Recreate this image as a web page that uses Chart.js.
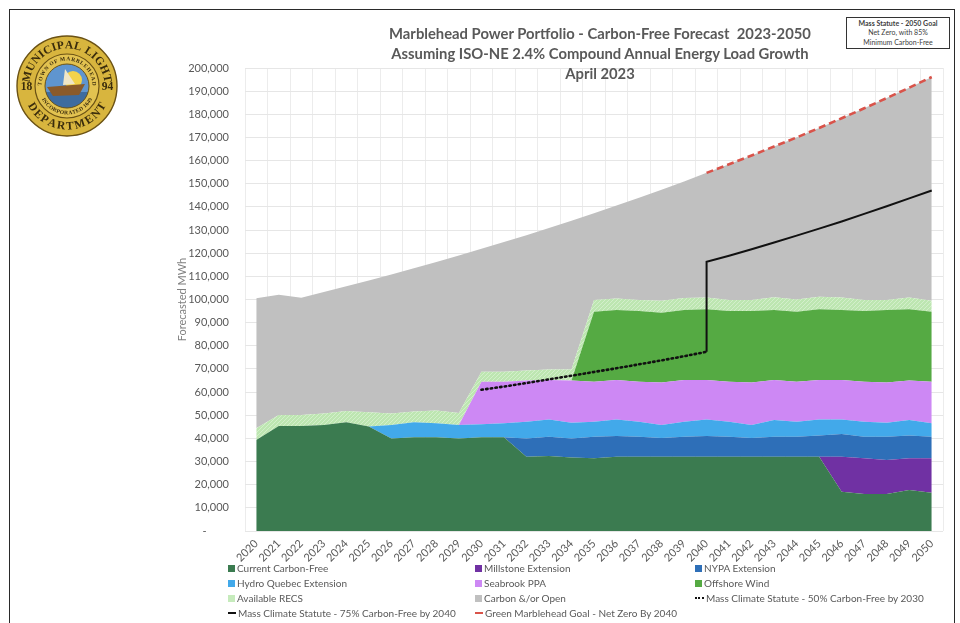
<!DOCTYPE html>
<html>
<head>
<meta charset="utf-8">
<script src="https://cdn.jsdelivr.net/npm/chart.js@4.4.1/dist/chart.umd.min.js"></script>
<style>
html,body{margin:0;padding:0;background:#fff;}
#wrap{position:relative;width:960px;height:623px;overflow:hidden;font-family:Lato,"Open Sans",sans-serif;color:#595959;}
#c{position:absolute;left:0;top:0;}
#frame{position:absolute;left:9px;top:9px;width:946px;height:700px;border:1.5px solid #2a2a2a;box-sizing:border-box;pointer-events:none;}
#title{position:absolute;left:300px;top:23px;width:600px;text-align:center;font-weight:bold;font-size:14.8px;line-height:20px;color:#595959;}
#box{position:absolute;left:846px;top:17px;width:104px;height:32px;border:1px solid #333;box-sizing:border-box;text-align:center;font-size:7px;line-height:9.3px;padding-top:1px;color:#404040;background:#fff;}
#box b{font-weight:bold;}
#legend{position:absolute;left:0;top:0;width:960px;height:623px;pointer-events:none;}
.li{position:absolute;font-size:10px;line-height:12px;white-space:nowrap;color:#595959;}
.mk{display:inline-block;vertical-align:middle;margin-right:2px;position:relative;top:-1px;}
</style>
</head>
<body>
<div id="wrap">
  <canvas id="c" width="960" height="623"></canvas>
  <div id="title">Marblehead Power Portfolio - Carbon-Free Forecast&nbsp; 2023-2050<br>Assuming ISO-NE 2.4% Compound Annual Energy Load Growth<br>April 2023</div>
  <div id="box"><b>Mass Statute - 2050 Goal</b><br>Net Zero, with 85%<br>Minimum Carbon-Free</div>
  <div id="legend"></div>
  <div id="frame"></div>
</div>
<script>
// ---------- DATA ----------
const years = ['2020','2021','2022','2023','2024','2025','2026','2027','2028','2029','2030',
  '2031','2032','2033','2034','2035','2036','2037','2038','2039','2040',
  '2041','2042','2043','2044','2045','2046','2047','2048','2049','2050'];

const currentCarbonFree = [39300,45400,45400,45800,47000,45100,40000,40500,40500,40000,40500,
  40500,32100,32400,31800,31400,32100,32100,32100,32100,32100,
  32100,32100,32100,32100,32100,17000,16000,16000,17700,16500];
const millstoneExtension = [0,0,0,0,0,0,0,0,0,0,0,
  0,0,0,0,0,0,0,0,0,0,
  0,0,0,0,0,15100,15400,14700,13700,14900];
const nypaExtension = [0,0,0,0,0,0,0,0,0,0,0,
  0,7900,8300,8200,9300,8900,8600,8100,8600,8900,
  8600,8100,8600,8600,9100,9800,9300,10000,9800,9300];
const hydroQuebecExtension = [0,0,0,0,0,0,5800,6500,6000,5800,5600,
  6000,7200,7500,6800,6500,7200,6500,5600,6500,7200,
  6500,5600,7300,6500,7000,6300,6500,6100,6800,5800];
const seabrookPPA = [0,0,0,0,0,0,0,0,0,0,18400,
  18000,17800,17000,18200,17300,17000,17300,18300,18000,17000,
  17300,18300,17200,17300,17000,17000,17300,17300,17000,18000];
const offshoreWind = [0,0,0,0,0,0,0,0,0,0,0,
  0,0,0,0,30200,30300,30500,30200,30300,30600,
  30500,30900,30300,30200,30600,30300,30500,31400,30800,30200];
const availableRECS = [5100,4700,4700,5000,4800,6200,5000,4600,5500,5200,4300,
  4300,4300,4600,4800,5100,4900,4800,5200,5100,5100,
  4800,4800,5500,5300,5400,5400,4800,4300,5100,4800];
const carbonOrOpen = [56100,51900,50700,52400,53900,56900,60000,61900,64200,68000,53100,
  56000,58500,61100,64200,37500,40200,44200,47900,50400,53800,
  58600,62400,65100,70000,72900,77400,82800,87200,90600,96600];

const statute50Years = ['2030','2031','2032','2033','2034','2035','2036','2037','2038','2039','2040'];
const statute50Values = [61000,62400,63900,65500,67100,68700,70300,72000,73700,75500,77400];

const statute75Years = ['2040','2040','2041','2042','2043','2044','2045','2046','2047','2048','2049','2050'];
const statute75Values = [77400,116300,118900,121700,124600,127600,130600,133700,137000,140300,143700,147100];

const netZeroYears = ['2040','2041','2042','2043','2044','2045','2046','2047','2048','2049','2050'];
const netZeroValues = [154700,158400,162200,166100,170000,174100,178300,182600,187000,191500,196100];

const yTickMax = 200000;
const yTickStep = 10000;

const seriesNames = ['Current Carbon-Free','Millstone Extension','NYPA Extension',
  'Hydro Quebec Extension','Seabrook PPA','Offshore Wind','Available RECS','Carbon &/or Open',
  'Mass Climate Statute - 50% Carbon-Free by 2030','Mass Climate Statute - 75% Carbon-Free by 2040',
  'Green Marblehead Goal - Net Zero By 2040'];

// ---------- STYLE ----------
function recsPattern(){
  const p = document.createElement('canvas'); p.width = 4; p.height = 4;
  const g = p.getContext('2d');
  g.fillStyle = '#bde6b1'; g.fillRect(0,0,4,4);
  g.fillStyle = '#d3efcb'; g.fillRect(0,0,1,1); g.fillRect(2,2,1,1); g.fillRect(1,3,1,1); g.fillRect(3,1,1,1);
  return g.createPattern(p,'repeat');
}
const areaColors = ['#3b7b50','#7031a3','#2e6fb8','#42a9ea','#cd88f4','#55aa43', null,'#c0c0c0'];
const areaSeries = [currentCarbonFree, millstoneExtension, nypaExtension, hydroQuebecExtension,
  seabrookPPA, offshoreWind, availableRECS, carbonOrOpen];

const datasets = [];
areaSeries.forEach((arr, i) => {
  datasets.push({
    label: seriesNames[i], data: arr, stack: 'areas', order: 1,
    backgroundColor: i === 6 ? recsPattern() : areaColors[i],
    legendColor: i === 6 ? '#c6ebbc' : areaColors[i],
    borderWidth: 0, pointRadius: 0, tension: 0,
    fill: i === 0 ? 'origin' : '-1'
  });
});
const toPts = (xs, ys) => xs.map((x, i) => ({x: x, y: ys[i]}));
datasets.push({label: seriesNames[8], data: toPts(statute50Years, statute50Values), stack: 's50', order: 0,
  borderColor: '#111', borderWidth: 2.6, borderDash: [1.5, 3.2], borderCapStyle: 'round', pointRadius: 0, fill: false, legendType: 'dots'});
datasets.push({label: seriesNames[9], data: toPts(statute75Years, statute75Values), stack: 's75', order: 0,
  borderColor: '#111', borderWidth: 2, pointRadius: 0, fill: false, legendType: 'line'});
datasets.push({label: seriesNames[10], data: toPts(netZeroYears, netZeroValues), stack: 'nz', order: 0,
  borderColor: '#d9534a', borderWidth: 2.6, borderDash: [7, 4], pointRadius: 0, fill: false, legendType: 'line'});

// ---------- LOGO ----------
function arcText(ctx, text, cx, cy, radius, centerAngle, span, top){
  const ws = [...text].map(ch => ctx.measureText(ch).width);
  const total = ws.reduce((a,b)=>a+b,0);
  const k = span / total;
  let a = top ? centerAngle - span/2 : centerAngle + span/2;
  [...text].forEach((ch, i) => {
    const da = ws[i]*k;
    const mid = top ? a + da/2 : a - da/2;
    ctx.save();
    ctx.translate(cx + radius*Math.cos(mid), cy + radius*Math.sin(mid));
    ctx.rotate(top ? mid + Math.PI/2 : mid - Math.PI/2);
    ctx.textAlign = 'center'; ctx.textBaseline = 'middle';
    ctx.fillText(ch, 0, 0);
    ctx.restore();
    a = top ? a + da : a - da;
  });
}
function drawSeal(ctx, cx, cy, r){
  ctx.save();
  ctx.beginPath(); ctx.arc(cx, cy, r, 0, Math.PI*2);
  ctx.fillStyle = '#d8b53e'; ctx.fill();
  ctx.lineWidth = 1.4; ctx.strokeStyle = '#6b5214'; ctx.stroke();
  ctx.beginPath(); ctx.arc(cx, cy, r*0.64, 0, Math.PI*2);
  ctx.fillStyle = '#e2c250'; ctx.fill(); ctx.lineWidth = 1.2; ctx.stroke();
  ctx.save();
  ctx.beginPath(); ctx.arc(cx, cy, r*0.44, 0, Math.PI*2); ctx.clip();
  ctx.fillStyle = '#5f95cf'; ctx.fillRect(cx-r, cy-r, 2*r, 2*r);
  ctx.fillStyle = '#f3d34a'; ctx.beginPath(); ctx.arc(cx+6, cy-6, 9, 0, Math.PI*2); ctx.fill();
  ctx.fillStyle = '#3e6c9f'; ctx.fillRect(cx-r, cy+6, 2*r, r);
  ctx.fillStyle = '#8a5a2a';
  ctx.beginPath(); ctx.moveTo(cx-20, cy+1); ctx.lineTo(cx+18, cy-2); ctx.lineTo(cx+12, cy+9); ctx.lineTo(cx-14, cy+10); ctx.closePath(); ctx.fill();
  ctx.fillStyle = '#efe6c8';
  ctx.beginPath(); ctx.moveTo(cx-4, cy-1); ctx.lineTo(cx-2, cy-17); ctx.lineTo(cx+8, cy-2); ctx.closePath(); ctx.fill();
  ctx.restore();
  ctx.beginPath(); ctx.arc(cx, cy, r*0.44, 0, Math.PI*2); ctx.lineWidth = 1; ctx.strokeStyle = '#6b5214'; ctx.stroke();
  ctx.fillStyle = '#3a2c0c';
  ctx.font = 'bold 11.5px "Liberation Serif", serif';
  arcText(ctx, 'MUNICIPAL LIGHT', cx, cy, r*0.81, -Math.PI/2, Math.PI*0.95, true);
  arcText(ctx, 'DEPARTMENT', cx, cy, r*0.81, Math.PI/2, Math.PI*0.72, false);
  ctx.textAlign = 'center'; ctx.textBaseline = 'middle';
  ctx.fillText('18', cx - r*0.81, cy + 1);
  ctx.fillText('94', cx + r*0.81, cy + 1);
  ctx.font = 'bold 5.5px "Liberation Serif", serif';
  arcText(ctx, 'TOWN OF MARBLEHEAD', cx, cy, r*0.54, -Math.PI/2, Math.PI*1.0, true);
  arcText(ctx, 'INCORPORATED 1649', cx, cy, r*0.54, Math.PI/2, Math.PI*0.7, false);
  ctx.restore();
}
const sealPlugin = { id: 'seal', afterDraw(chart){ drawSeal(chart.ctx, 67, 86, 50); } };

// ---------- CHART ----------
const chart = new Chart(document.getElementById('c'), {
  type: 'line',
  data: { labels: years, datasets: datasets },
  options: {
    responsive: false, animation: false,
    layout: { padding: { left: 172, right: 17, top: 68, bottom: 0 } },
    plugins: { legend: { display: false }, tooltip: { enabled: false }, title: { display: false } },
    elements: { line: { tension: 0 } },
    scales: {
      x: {
        type: 'category', offset: true,
        grid: { offset: true, color: '#ececec', drawTicks: false },
        border: { display: false },
        ticks: { autoSkip: false, minRotation: 45, maxRotation: 45, padding: 6,
          color: '#595959', font: { family: 'Lato', size: 11 } },
        afterFit: s => { s.height = 92; }
      },
      y: {
        stacked: true, min: 0, max: yTickMax,
        grid: { color: '#e6e6e6', drawTicks: false },
        border: { display: false },
        ticks: { stepSize: yTickStep, padding: 16, color: '#595959', font: { family: 'Lato', size: 11 },
          callback: v => v === 0 ? '-        ' : v.toLocaleString('en-US') },
        title: { display: true, text: 'Forecasted MWh', color: '#808080', font: { family: 'Lato', size: 11 }, padding: { top: 4, bottom: 0 } },
        afterFit: s => { s.width = 73; }
      }
    }
  },
  plugins: [sealPlugin]
});

// ---------- LEGEND ----------
const legendCols = [228, 475, 695];
const legendRows = [568, 583, 598, 613];
const lg = document.getElementById('legend');
chart.data.datasets.forEach((ds, i) => {
  const d = document.createElement('div');
  d.className = 'li';
  d.style.left = legendCols[i % 3] + 'px';
  d.style.top = (legendRows[Math.floor(i / 3)] - 6) + 'px';
  const m = document.createElement('span');
  m.className = 'mk';
  if (ds.legendType === 'line') {
    m.style.width = '8px'; m.style.height = '0'; m.style.borderTop = '2px solid ' + ds.borderColor;
  } else if (ds.legendType === 'dots') {
    m.style.width = '9px'; m.style.height = '0'; m.style.borderTop = '2px dotted ' + ds.borderColor;
  } else {
    m.style.width = '7px'; m.style.height = '7px'; m.style.background = ds.legendColor;
  }
  d.appendChild(m);
  d.appendChild(document.createTextNode(ds.label));
  lg.appendChild(d);
});
</script>
</body>
</html>
